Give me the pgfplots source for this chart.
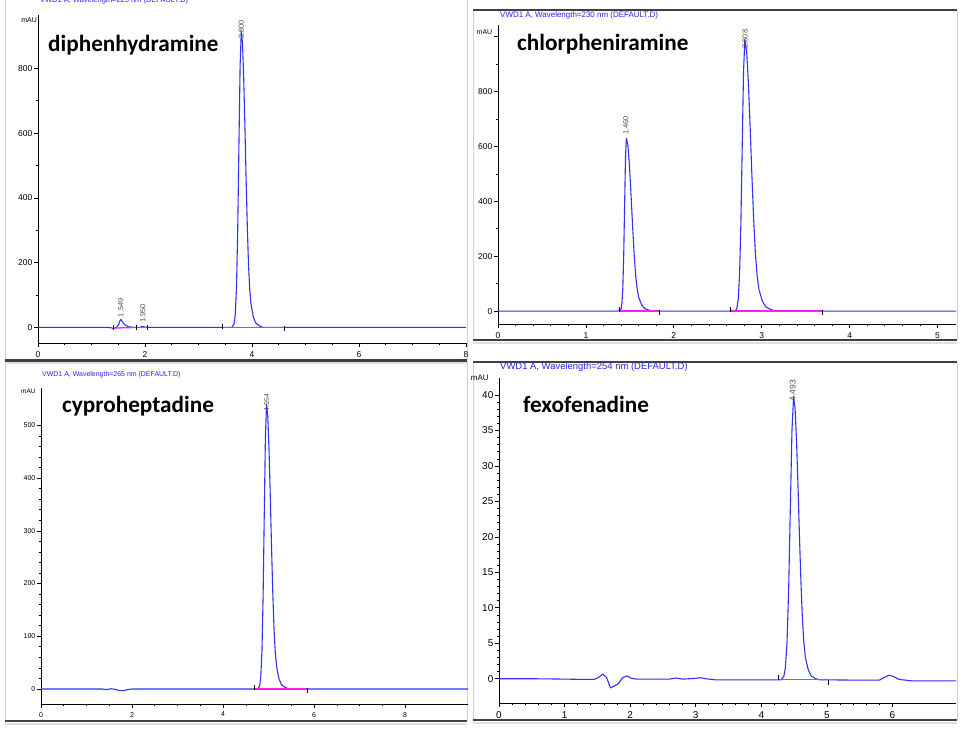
\documentclass[border=0pt]{standalone}
\usepackage{pgfplots}
\pgfplotsset{compat=1.18}
\usepackage{fontspec}
\setmainfont{Liberation Sans}
\newfontfamily\calib{Carlito}
\definecolor{trace}{RGB}{50,50,245}
\definecolor{basel}{RGB}{255,30,235}
\definecolor{plab}{RGB}{85,85,60}
\definecolor{subt}{RGB}{40,40,235}
\pgfplotsset{
  chrom/.style={
    scale only axis,
    anchor=south west,
    axis lines=left,
    axis line style={-, line width=0.9pt},
    tick align=outside,
    major tick length=4bp,
    minor tick length=2.5bp,
    tick style={black, line width=0.7pt},
    /pgf/number format/assume math mode=true,
    clip=false,
    xticklabel style={inner sep=1pt, yshift=-3bp},
    yticklabel style={inner sep=1.5pt},
  },
  tr/.style={trace, line width=1.1pt, line join=round, no markers},
  bl/.style={basel, line width=1.3pt, no markers},
  bt/.style={only marks, mark=|, mark size=2.5bp, mark options={black, line width=0.7pt}},
}
\tikzset{pl/.style={rotate=90, anchor=west, text=plab, inner sep=0.5pt}}
\begin{document}
\begin{tikzpicture}[x=1bp,y=1bp]
\clip (0,0) rectangle (963,737);
\fill[white] (0,0) rectangle (963,737);
% frames
\draw[gray!35, line width=0.8pt] (5,737) -- (5,377) (467,737) -- (467,377);
\draw[gray!35, line width=0.8pt] (473,727) -- (473,397) (957,727) -- (957,397);
\draw[gray!35, line width=0.8pt] (5,376) -- (5,16) (467,376) -- (467,16);
\draw[gray!35, line width=0.8pt] (473,375) -- (473,17) (957,375) -- (957,17);
\draw[black!75, line width=1.2pt] (5,377) -- (467,377);
\draw[gray!25, line width=2pt] (5,374) -- (467,374);
\draw[black!75, line width=1.2pt] (473,727) -- (957,727);
\draw[black!75, line width=1.2pt] (473,397) -- (957,397);
\draw[gray!25, line width=2pt] (473,394) -- (957,394);
\draw[black!75, line width=1.2pt] (5,376) -- (467,376);
\draw[black!75, line width=1.2pt] (5,16) -- (467,16);
\draw[gray!25, line width=2pt] (5,13) -- (467,13);
\draw[black!75, line width=1.2pt] (473,375) -- (957,375);
\draw[black!75, line width=1.2pt] (473,17) -- (957,17);
\draw[gray!25, line width=2pt] (473,14) -- (957,14);

% ---------------- Panel 1: diphenhydramine
\begin{axis}[chrom, at={(38bp,394bp)}, width=428bp, height=328bp,
  xmin=0, xmax=8, ymin=-48, ymax=965,
  xtick={0,2,4,6,8}, minor x tick num=3,
  ytick={0,200,400,600,800}, minor y tick num=1,
  tick label style={font=\fontsize{8.5}{9}\selectfont}]
\addplot[tr] coordinates {(0,0) (1.30,0) (1.36,-0.5) (1.40,-3) (1.44,-2) (1.48,2) (1.51,10) (1.53,20) (1.549,25) (1.57,20) (1.60,12) (1.64,6) (1.70,2) (1.78,0.5) (1.86,0) (1.91,0.5) (1.95,3) (2.00,1) (2.08,0) (3.62,0) (3.665,10) (3.6875,40) (3.71,124) (3.7325,297) (3.755,555) (3.7775,807) (3.80,915) (3.8225,877) (3.845,770) (3.8675,620) (3.89,458) (3.9125,311) (3.935,192) (3.9575,119) (3.98,73) (4.025,32) (4.07,14) (4.1375,5) (4.205,0) (8,0)};
\addplot[bl] coordinates {(1.40,-2) (1.83,0)};
\addplot[bl] coordinates {(1.83,0) (2.04,0)};
\addplot[bl] coordinates {(3.44,0) (4.60,0)};
\addplot[bt] coordinates {(1.40,0) (1.83,0) (2.04,0) (3.44,2) (4.60,-2)};
\node[pl, font=\fontsize{7.5}{8}\selectfont] at (axis cs:1.549,30) {1.549};
\node[pl, font=\fontsize{7.5}{8}\selectfont] at (axis cs:1.96,12) {1.950};
\node[pl, font=\fontsize{7.5}{8}\selectfont] at (axis cs:3.80,890) {3.800};
\node[anchor=east, font=\fontsize{7}{8}\selectfont, inner sep=1pt] at (rel axis cs:0,0.985) {mAU};
\end{axis}
\node[anchor=west, text=subt, font=\fontsize{7.5}{8}\selectfont, inner sep=0pt] at (40,736) {VWD1 A, Wavelength=225 nm (DEFAULT.D)};
\node[anchor=base west, font=\calib\bfseries\fontsize{23.3}{25}\selectfont, inner sep=0pt] at (48,685) {diphenhydramine};

% ---------------- Panel 2: chlorpheniramine
\begin{axis}[chrom, at={(498bp,413bp)}, width=458bp, height=299bp,
  xmin=0, xmax=5.21, ymin=-47, ymax=1043,
  xtick={0,1,2,3,4,5}, minor x tick num=4,
  ytick={0,200,400,600,800,1000}, yticklabels={0,200,400,600,800,}, minor y tick num=1,
  tick label style={font=\fontsize{8.5}{9}\selectfont}]
\addplot[tr] coordinates {(0,0) (1.36,0) (1.40,7) (1.41,28) (1.42,85) (1.43,205) (1.44,383) (1.45,557) (1.46,631) (1.4775,605) (1.495,531) (1.5125,428) (1.53,316) (1.5475,214) (1.565,133) (1.5825,82) (1.60,50) (1.635,22) (1.67,9) (1.7225,3) (1.775,0) (2.70,0) (2.718,11) (2.733,44) (2.748,134) (2.763,322) (2.778,601) (2.793,873) (2.808,990) (2.828,948) (2.848,833) (2.868,671) (2.888,495) (2.908,336) (2.928,208) (2.948,129) (2.968,79) (3.008,35) (3.048,15) (3.108,5) (3.168,0) (5.21,0)};
\addplot[bl] coordinates {(1.375,0) (1.83,0)};
\addplot[bl] coordinates {(2.64,0) (3.69,0)};
\addplot[bt] coordinates {(1.375,6) (1.83,-6) (2.64,6) (3.69,-6)};
\node[pl, font=\fontsize{7.5}{8}\selectfont] at (axis cs:1.455,640) {1.460};
\node[pl, font=\fontsize{7.5}{8}\selectfont] at (axis cs:2.81,955) {2.808};
\node[anchor=east, font=\fontsize{7}{8}\selectfont, inner sep=1pt] at (rel axis cs:-0.01,0.975) {mAU};
\end{axis}
\node[anchor=west, text=subt, font=\fontsize{8}{9}\selectfont, inner sep=0pt] at (500,722) {VWD1 A, Wavelength=230 nm (DEFAULT.D)};
\node[anchor=base west, font=\calib\bfseries\fontsize{23.3}{25}\selectfont, inner sep=0pt] at (517,686) {chlorpheniramine};

% ---------------- Panel 3: cyproheptadine
\begin{axis}[chrom, at={(41bp,33bp)}, width=427bp, height=316bp,
  xmin=0, xmax=9.38, ymin=-28.4, ymax=571,
  xtick={0,2,4,6,8}, minor x tick num=3,
  ytick={0,100,200,300,400,500}, minor y tick num=4,
  tick label style={font=\fontsize{7}{8}\selectfont}]
\addplot[tr] coordinates {(0,0) (1.35,0) (1.42,-1) (1.55,0.5) (1.65,-1) (1.72,-3) (1.82,-3) (1.9,-1) (2.0,0) (4.76,0) (4.804,6) (4.829,24) (4.854,73) (4.879,176) (4.904,328) (4.929,476) (4.954,540) (4.9815,517) (5.009,454) (5.0365,366) (5.064,270) (5.0915,183) (5.119,113) (5.1465,70) (5.174,43) (5.229,19) (5.284,8) (5.3665,3) (5.449,0) (9.38,0)};
\addplot[bl] coordinates {(4.69,0) (5.84,0)};
\addplot[bt] coordinates {(4.69,3) (5.84,-3)};
\node[pl, font=\fontsize{7}{8}\selectfont] at (axis cs:4.956,525) {4.954};
\node[anchor=east, font=\fontsize{6.5}{7}\selectfont, inner sep=1pt] at (rel axis cs:-0.01,0.99) {mAU};
\end{axis}
\node[anchor=west, text=subt, font=\fontsize{7}{8}\selectfont, inner sep=0pt] at (42,362) {VWD1 A, Wavelength=265 nm (DEFAULT.D)};
\node[anchor=base west, font=\calib\bfseries\fontsize{23.3}{25}\selectfont, inner sep=0pt] at (62,324) {cyproheptadine};

% ---------------- Panel 4: fexofenadine
\begin{axis}[chrom, at={(499bp,34bp)}, width=457bp, height=325bp,
  xmin=0, xmax=6.97, ymin=-3.42, ymax=42.4,
  xtick={0,1,2,3,4,5,6}, minor x tick num=4,
  ytick={0,5,10,15,20,25,30,35,40}, minor y tick num=4,
  tick label style={font=\fontsize{10}{11}\selectfont}]
\addplot[tr] coordinates {(0,0) (0.5,0) (1.0,-0.05) (1.3,-0.1) (1.45,-0.1) (1.52,0.2) (1.58,0.65) (1.64,0.2) (1.70,-1.3) (1.76,-1.0) (1.82,-0.7) (1.88,0.1) (1.95,0.4) (2.02,0.05) (2.1,-0.05) (2.6,-0.05) (2.7,0.1) (2.8,-0.05) (3.0,0.05) (3.07,0.15) (3.15,0.0) (3.3,-0.15) (4.3,-0.15) (4.343,0.3) (4.368,1.6) (4.393,5.2) (4.418,12.8) (4.443,24.0) (4.468,35.0) (4.493,39.8) (4.5155,38.1) (4.538,33.5) (4.5605,27.0) (4.583,19.9) (4.6055,13.5) (4.628,8.3) (4.6505,5.0) (4.673,3.0) (4.718,1.2) (4.763,0.4) (4.8305,0.0) (4.898,-0.15) (5.5,-0.2) (5.8,-0.2) (5.88,0.2) (5.95,0.5) (6.02,0.3) (6.1,-0.1) (6.3,-0.3) (6.97,-0.3)};
\addplot[bl] coordinates {(4.26,-0.15) (5.02,-0.15)};
\addplot[bt] coordinates {(4.26,0.2) (5.02,-0.5)};
\node[pl, font=\fontsize{8.5}{9}\selectfont] at (axis cs:4.48,39.0) {4.493};
\node[anchor=east, font=\fontsize{8}{9}\selectfont, inner sep=1pt] at (rel axis cs:-0.02,1.0) {mAU};
\end{axis}
\node[anchor=west, text=subt, font=\fontsize{9.5}{10}\selectfont, inner sep=0pt] at (500,370) {VWD1 A, Wavelength=254 nm (DEFAULT.D)};
\node[anchor=base west, font=\calib\bfseries\fontsize{23.3}{25}\selectfont, inner sep=0pt] at (523,324) {fexofenadine};
\end{tikzpicture}
\end{document}
